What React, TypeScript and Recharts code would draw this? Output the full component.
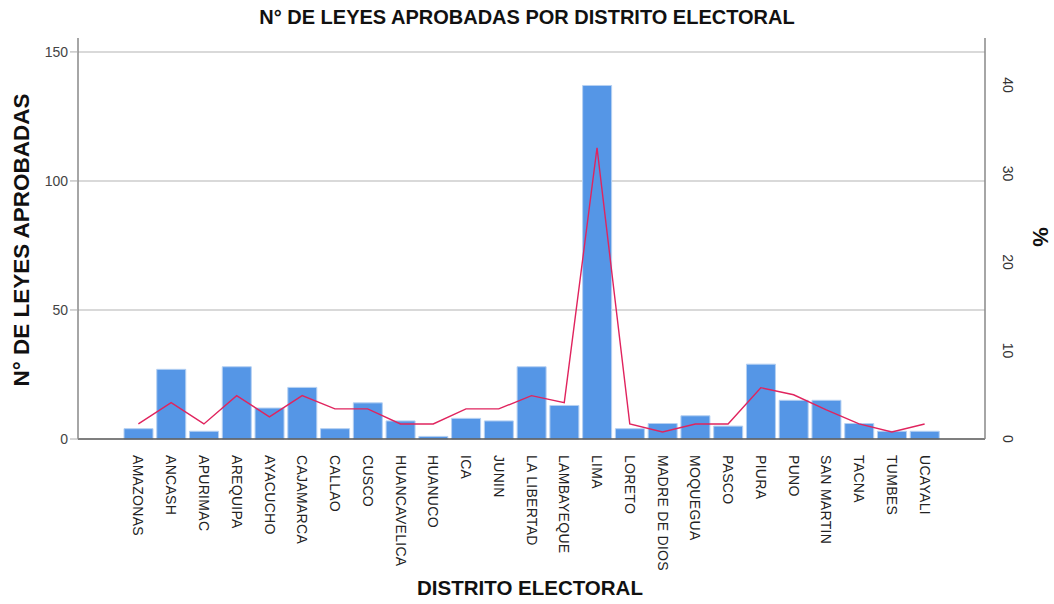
import { ComposedChart, Bar, Line, XAxis, YAxis, CartesianGrid } from "recharts";

const distritos = [
  "AMAZONAS", "ANCASH", "APURIMAC", "AREQUIPA", "AYACUCHO", "CAJAMARCA", "CALLAO", "CUSCO",
  "HUANCAVELICA", "HUANUCO", "ICA", "JUNIN", "LA LIBERTAD", "LAMBAYEQUE", "LIMA", "LORETO",
  "MADRE DE DIOS", "MOQUEGUA", "PASCO", "PIURA", "PUNO", "SAN MARTIN", "TACNA", "TUMBES", "UCAYALI",
];
const leyes = [4, 27, 3, 28, 12, 20, 4, 14, 7, 1, 8, 7, 28, 13, 137, 4, 6, 9, 5, 29, 15, 15, 6, 3, 3];
const porcentaje = [1.7, 4.1, 1.7, 4.9, 2.5, 4.9, 3.4, 3.4, 1.7, 1.7, 3.4, 3.4, 4.9, 4.1, 32.9, 1.7, 0.8, 1.7, 1.7, 5.8, 5.0, 3.3, 1.7, 0.8, 1.7];
const leftTicks = [0, 50, 100, 150];
const rightTicks = [0, 10, 20, 30, 40];

const data = distritos.map((d, i) => ({ distrito: d, leyes: leyes[i], pct: porcentaje[i] }));

const FONT = "'Liberation Sans', Arial, sans-serif";

const XTick = ({ x, y, payload }: any) => (
  <g transform={`translate(${x},${y})`}>
    <text transform="rotate(90)" x={8} y={0} dy="0.35em" textAnchor="start" fontSize={14} letterSpacing={0.3} fill="#222" fontFamily={FONT}>
      {payload.value}
    </text>
  </g>
);

const RightTick = ({ x, y, payload }: any) => (
  <g transform={`translate(${x + 15},${y})`}>
    <text transform="rotate(90)" x={0} y={0} textAnchor="middle" dy="-0.1em" fontSize={14} fill="#333" fontFamily={FONT}>
      {payload.value}
    </text>
  </g>
);

export default function App() {
  return (
    <div style={{ position: "absolute", left: 0, top: 0, width: 1054, height: 604, background: "#fff", fontFamily: FONT }}>
      <ComposedChart width={1054} height={604} data={data} margin={{ top: 38, right: 29, bottom: 65, left: 38 }}>
        <CartesianGrid yAxisId="left" vertical={false} stroke="#cccccc" strokeWidth={1.5} horizontalValues={[50, 100, 150]} />
        <XAxis
          dataKey="distrito"
          interval={0}
          height={100}
          tickLine={false}
          axisLine={{ stroke: "#555", strokeWidth: 1.5 }}
          tick={<XTick />}
          padding={{ left: 44, right: 44 }}
        />
        <YAxis
          yAxisId="left"
          width={40}
          domain={[0, 155.4]}
          ticks={leftTicks}
          tickSize={8}
          tickLine={{ stroke: "#aaa" }}
          axisLine={{ stroke: "#888", strokeWidth: 1.5 }}
          tick={{ fontSize: 14, fill: "#444", fontFamily: FONT }}
        />
        <YAxis
          yAxisId="right"
          orientation="right"
          width={40}
          domain={[0, 45.3]}
          ticks={rightTicks}
          tickSize={0}
          axisLine={{ stroke: "#888", strokeWidth: 1.5 }}
          tick={<RightTick />}
        />
        <Bar yAxisId="left" dataKey="leyes" barSize={29} fill="#5596e6" stroke="#b5d0f2" strokeWidth={1} isAnimationActive={false} />
        <Line yAxisId="right" dataKey="pct" type="linear" stroke="#e0245e" strokeWidth={1.4} dot={false} isAnimationActive={false} />
      </ComposedChart>
      <div style={{ position: "absolute", left: 0, width: 1054, top: 6, textAlign: "center", fontSize: 20, fontWeight: "bold", color: "#111" }}>
        N° DE LEYES APROBADAS POR DISTRITO ELECTORAL
      </div>
      <div style={{ position: "absolute", left: 0, width: 1060, top: 576, textAlign: "center", fontSize: 20.5, fontWeight: "bold", color: "#111" }}>
        DISTRITO ELECTORAL
      </div>
      <div style={{ position: "absolute", left: 22, top: 240, width: 0, height: 0 }}>
        <div style={{ position: "absolute", transform: "translate(-50%,-50%) rotate(-90deg)", whiteSpace: "nowrap", fontSize: 22.5, fontWeight: "bold", color: "#111" }}>
          N° DE LEYES APROBADAS
        </div>
      </div>
      <div style={{ position: "absolute", left: 1040, top: 237, width: 0, height: 0 }}>
        <div style={{ position: "absolute", transform: "translate(-50%,-50%) rotate(90deg)", whiteSpace: "nowrap", fontSize: 22, fontWeight: "bold", color: "#111" }}>
          %
        </div>
      </div>
    </div>
  );
}
